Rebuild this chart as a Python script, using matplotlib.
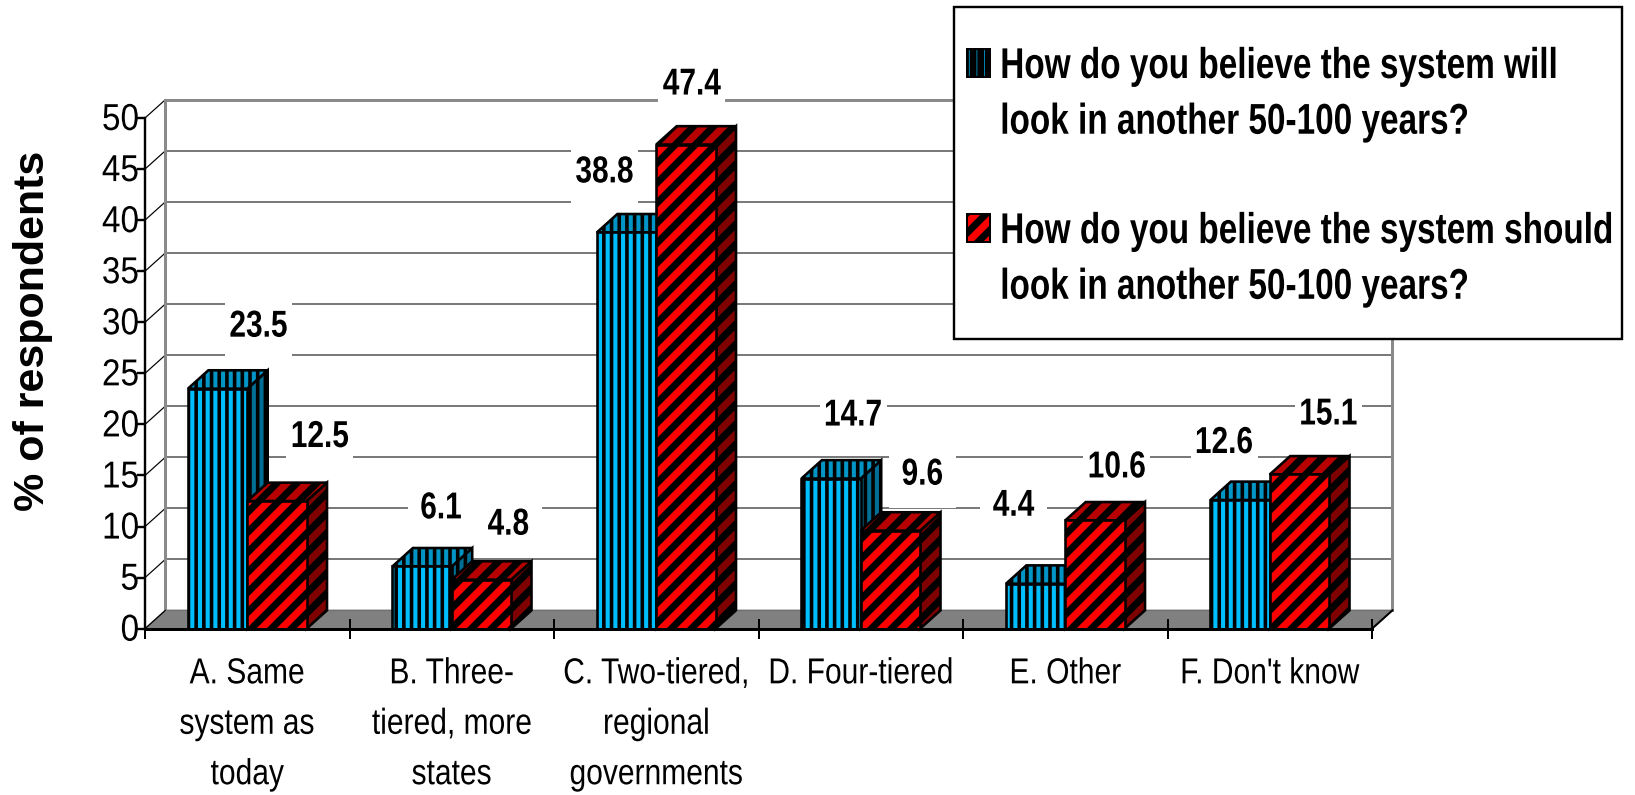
import matplotlib
matplotlib.use("Agg")
import matplotlib.pyplot as plt
import matplotlib.hatch as mhatch
from matplotlib.patches import Patch, Polygon, Rectangle
from matplotlib.path import Path
from matplotlib.patheffects import AbstractPathEffect
from matplotlib.transforms import Affine2D
from matplotlib.legend_handler import HandlerPatch

categories = ["A. Same\nsystem as\ntoday", "B. Three-\ntiered, more\nstates",
              "C. Two-tiered,\nregional\ngovernments", "D. Four-tiered",
              "E. Other", "F. Don't know"]
will_values = [23.5, 6.1, 38.8, 14.7, 4.4, 12.6]
should_values = [12.5, 4.8, 47.4, 9.6, 10.6, 15.1]
will_label = "How do you believe the system will\nlook in another 50-100 years?"
should_label = "How do you believe the system should\nlook in another 50-100 years?"
y_ticks = [0, 5, 10, 15, 20, 25, 30, 35, 40, 45, 50]
y_title = "% of respondents"

# label offsets from bar-top centre, in pixels (display, at dpi 100)
will_offsets = [(41, 60), (19, 56), (-22, 58), (22, 61), (-22, 76), (-16, 55)]
should_offsets = [(43, 62), (27, 53), (6, 58), (32, 54), (22, 51), (29, 58)]

DEPTH_X, DEPTH_Y = 0.1, 1.8
BAR_W = 0.29
W, H = 1635, 795
FONT = ["Liberation Sans", "DejaVu Sans"]
plt.rcParams["font.family"] = FONT


class VStripes(mhatch.VerticalHatch):
    def __init__(self, hatch, density):
        self.num_lines = 13 if "|" in hatch else 0
        self.num_vertices = self.num_lines * 2


class DStripes(mhatch.NorthEastHatch):
    def __init__(self, hatch, density):
        self.num_lines = 10 if "/" in hatch else 0
        self.num_vertices = (self.num_lines + 1) * 2 if self.num_lines else 0


mhatch._hatch_types = [VStripes if c is mhatch.VerticalHatch else
                       DStripes if c is mhatch.NorthEastHatch else c
                       for c in mhatch._hatch_types]


class Tall(AbstractPathEffect):
    """Draw the glyphs taller: the original lettering is a condensed face."""
    def __init__(self, sy):
        super().__init__()
        self.sy = sy

    def draw_path(self, renderer, gc, tpath, affine, rgbFace=None):
        renderer.draw_path(gc, tpath, Affine2D().scale(1, self.sy) + affine, rgbFace)


def label_box(x0, y0, width, height, mutation_size):
    cx, cy = x0 + width / 2, y0 + height / 2
    hw, hh = 33.5, 31
    return Path([(cx - hw, cy - hh), (cx + hw, cy - hh), (cx + hw, cy + hh),
                 (cx - hw, cy + hh), (cx - hw, cy - hh)], closed=True)


px = 72 / 100
fig = plt.figure(figsize=(W / 100, H / 100), dpi=100, facecolor="white")
ax = fig.add_axes([145 / W, (H - 628.7) / H, 1227 / W, 510.7 / H])
ax.set_facecolor("none")
ax.set_xlim(0, 6)
ax.set_ylim(0, 50)
n = len(categories)

# floor and back wall
ax.add_patch(Polygon([(0, 0), (n, 0), (n + DEPTH_X, DEPTH_Y), (DEPTH_X, DEPTH_Y)],
                     facecolor="#808080", edgecolor="#6e6e6e", lw=1, clip_on=False, zorder=1))
for v in y_ticks[1:]:
    c = "#8a8a8a" if v == 50 else "#5a5a5a"
    ax.plot([DEPTH_X, n + DEPTH_X], [v + DEPTH_Y] * 2, color=c,
            lw=(3 if v == 50 else 1.6) * px, clip_on=False, zorder=1)
    ax.plot([0, DEPTH_X], [v, v + DEPTH_Y], color="black", lw=1.2 * px, clip_on=False, zorder=1)
ax.plot([DEPTH_X] * 2, [DEPTH_Y, 50 + DEPTH_Y], color="#8a8a8a", lw=3 * px, clip_on=False, zorder=1)
ax.plot([n + DEPTH_X] * 2, [DEPTH_Y, 50 + DEPTH_Y], color="#8a8a8a", lw=3 * px, clip_on=False, zorder=1)
ax.plot([n, n + DEPTH_X], [0, DEPTH_Y], color="black", lw=2 * px, clip_on=False, zorder=1)
ax.plot([0, DEPTH_X], [0, DEPTH_Y], color="black", lw=1.2 * px, clip_on=False, zorder=1)


def bar3d(left, value, front, top, side, hatch, hlw, z):
    plt.rcParams["hatch.linewidth"] = hlw * px
    kw = dict(edgecolor="black", lw=2.6 * px, hatch=hatch, clip_on=False, zorder=z)
    right = left + BAR_W
    ax.add_patch(Polygon([(right, 0), (right + DEPTH_X, DEPTH_Y),
                          (right + DEPTH_X, value + DEPTH_Y), (right, value)],
                         facecolor=side, **kw))
    ax.add_patch(Polygon([(left, value), (right, value),
                          (right + DEPTH_X, value + DEPTH_Y), (left + DEPTH_X, value + DEPTH_Y)],
                         facecolor=top, **kw))
    ax.bar(left, value, width=BAR_W, align="edge", color=front, **kw)


for i in range(n):
    c = i + 0.5
    bar3d(c - BAR_W, will_values[i], "#00BFFF", "#0095C5", "#006E95", "|", 3.6, 3 + i * 2)
    bar3d(c, should_values[i], "#FF0000", "#B80000", "#7E0000", "/", 7, 4 + i * 2)

# data labels
for i in range(n):
    for val, off, shift in ((will_values[i], will_offsets[i], -BAR_W / 2),
                            (should_values[i], should_offsets[i], BAR_W / 2)):
        t = ax.annotate(f"{val:.1f}", (i + 0.5 + shift, val),
                        xytext=(off[0] * px, off[1] * px), textcoords="offset points",
                        ha="center", va="center", fontsize=21.5, fontweight="bold",
                        annotation_clip=False, zorder=2,
                        bbox=dict(boxstyle=label_box, facecolor="white", edgecolor="none"))
        t.set_path_effects([Tall(27 / 21.5)])

# axes
for s in ("top", "right"):
    ax.spines[s].set_visible(False)
ax.spines["left"].set_linewidth(2.4 * px)
ax.spines["bottom"].set_linewidth(3 * px)
ax.spines["left"].set_zorder(30)
ax.spines["bottom"].set_zorder(30)
ax.set_yticks(y_ticks)
ax.tick_params(axis="y", which="major", direction="out", length=8 * px, width=2.4 * px,
               labelsize=24, pad=-1.5)
ax.set_xticks(range(n + 1))
ax.set_xticklabels([])
ax.tick_params(axis="x", which="major", direction="inout", length=20 * px, width=2 * px)
ax.set_xticks([i + 0.5 for i in range(n)], minor=True)
ax.set_xticklabels(categories, minor=True, fontsize=21.6, linespacing=2.02, va="top")
ax.tick_params(axis="x", which="minor", length=0, pad=23.5)
ax.set_axisbelow(False)
for t in ax.get_yticklabels():
    t.set_path_effects([Tall(27 / 24)])
for t in ax.get_xticklabels(minor=True):
    t.set_path_effects([Tall(26 / 21.6)])

fig.text(33 / W, 1 - 331 / H, y_title, rotation=90, ha="center", va="center",
         fontsize=31, fontweight="bold", family=FONT)

# legend box + legend
ax.add_patch(Rectangle((954 / W, 1 - 339 / H), 668 / W, 332 / H, transform=fig.transFigure,
                       facecolor="white", edgecolor="black", lw=2.4 * px, clip_on=False, zorder=40))


def raised(legend=None, orig_handle=None, xdescent=0, ydescent=0, width=0, height=0, fontsize=0):
    return Rectangle((-xdescent, -ydescent + 34.6 * px), width, height)


plt.rcParams["hatch.linewidth"] = 3.6 * px
h1 = Patch(facecolor="#00BFFF", edgecolor="black", lw=2 * px, hatch="|", label=will_label)
plt.rcParams["hatch.linewidth"] = 7 * px
h2 = Patch(facecolor="#FF0000", edgecolor="black", lw=2 * px, hatch="/", label=should_label)
leg = ax.legend(handles=[h1, h2], loc="upper left", bbox_to_anchor=(967 / W, 1 - 54 / H),
                bbox_transform=fig.transFigure, frameon=False, borderpad=0, borderaxespad=0,
                prop=dict(family=FONT, weight="bold", size=24),
                handlelength=16.5 / 24, handleheight=21.6 / 24, handletextpad=0.31, labelspacing=2.35,
                handler_map={Patch: HandlerPatch(patch_func=raised)})
leg.set_zorder(41)
for t in leg.get_texts():
    t.set_linespacing(2.03)
    t.set_path_effects([Tall(31 / 24)])

fig.savefig("out.png", dpi=100)
